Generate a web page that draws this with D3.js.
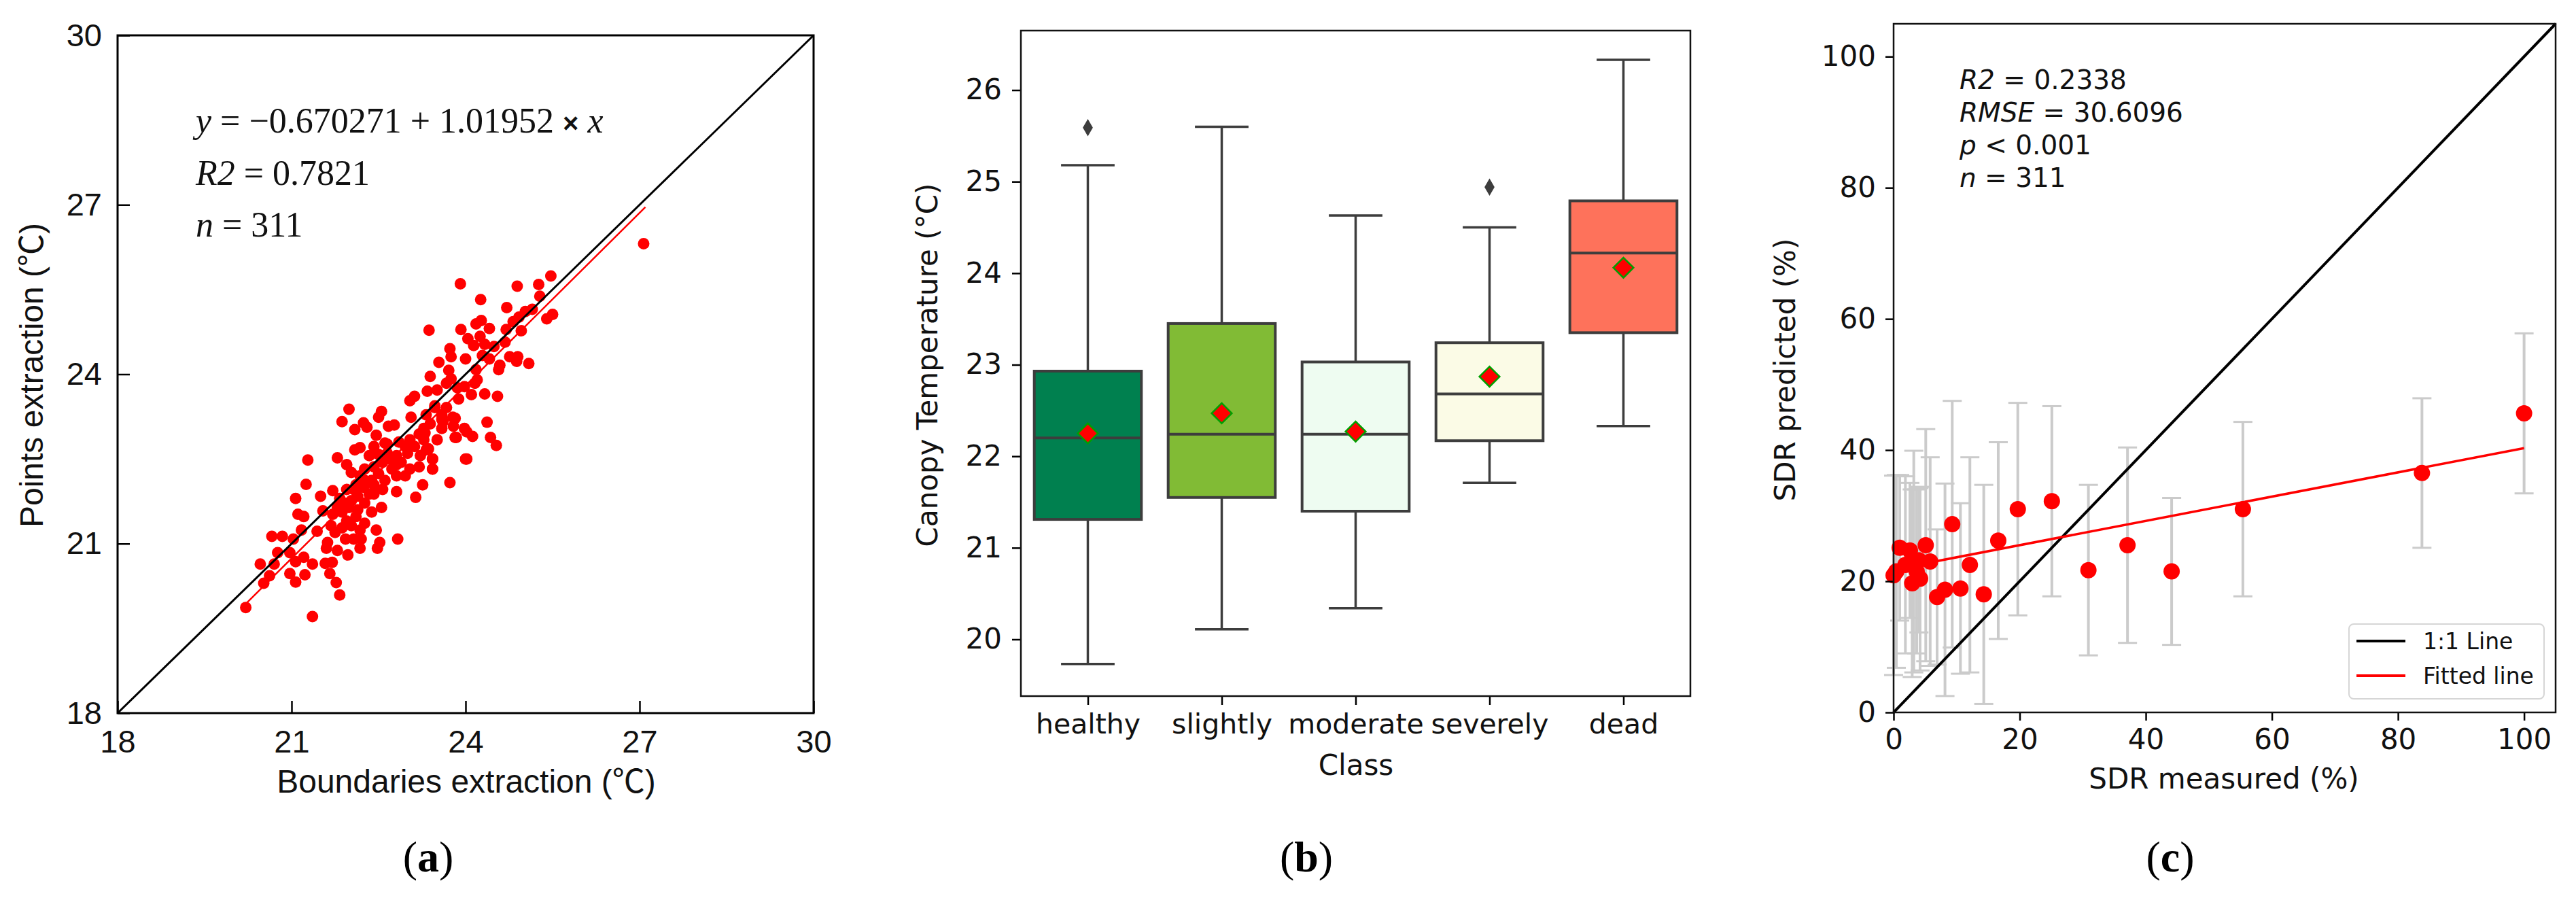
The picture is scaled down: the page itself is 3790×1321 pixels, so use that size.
<!DOCTYPE html>
<html>
<head>
<meta charset="utf-8">
<script src="https://cdn.jsdelivr.net/npm/d3@7"></script>
<style>
  body { margin: 0; background: #fff; }
</style>
</head>
<body>
<div id="graf"></div>
<script>
// ---- panel (a): boundaries vs points extraction ----
const ptsA = [
  [20.21,19.87],[21.36,19.71],[21.83,20.09],[21.77,20.31],[21.07,20.32],[20.97,20.47],[21.23,20.45],[20.52,20.30],
  [20.46,20.64],[20.70,20.64],[20.62,20.43],[21.36,20.64],[21.58,20.65],[21.70,20.67],[21.66,20.47],[21.21,20.76],
  [21.07,20.68],[20.97,20.84],[20.76,20.84],[20.66,21.13],[20.84,21.13],[21.03,21.08],[21.17,21.24],[21.44,21.22],
  [21.62,21.02],[21.60,20.92],[21.79,20.88],[21.97,20.80],[21.93,21.08],[22.18,20.92],[22.07,21.08],[22.20,21.08],
  [22.48,20.92],[22.52,21.02],[22.46,21.24],[22.83,21.08],[21.11,21.52],[21.21,21.48],[21.07,21.80],[21.25,22.05],
  [21.50,21.84],[21.71,21.94],[21.54,21.58],[21.68,21.32],[21.71,21.52],[21.87,21.56],[21.99,21.64],[21.95,21.40],
  [22.11,21.48],[22.26,21.36],[22.38,21.56],[22.55,21.64],[22.26,21.72],[22.14,21.84],[22.07,21.96],[22.24,22.00],
  [22.42,21.88],[22.57,21.96],[22.81,21.92],[23.14,21.82],[23.26,22.04],[23.73,22.08],[22.38,22.12],[22.50,22.24],
  [22.26,22.32],[22.73,22.32],[22.96,22.20],[23.04,22.32],[23.20,22.36],[23.43,22.32],[23.43,22.50],[23.22,22.56],
  [24.00,22.50],[21.95,22.40],[22.03,22.26],[21.79,22.52],[21.28,22.48],[22.09,22.66],[22.18,22.70],[22.50,22.58],
  [22.65,22.76],[22.85,22.80],[23.04,22.84],[23.20,22.94],[23.28,23.04],[23.06,23.24],[23.04,23.53],[23.12,23.61],
  [23.47,23.41],[23.59,23.20],[23.78,23.24],[23.82,22.88],[23.98,23.04],[21.99,23.38],[21.87,23.16],[22.09,23.02],
  [22.24,23.14],[22.30,23.06],[22.46,22.92],[22.50,23.24],[22.55,23.34],[22.67,23.08],[22.77,23.10],[22.61,22.78],
  [27.07,26.31],[25.47,25.74],[25.26,25.59],[24.89,25.56],[23.91,25.60],[24.26,25.32],[25.28,25.38],[24.71,25.18],
  [25.03,25.11],[25.15,25.15],[25.50,25.06],[25.40,24.98],[24.82,24.93],[24.92,25.01],[24.96,24.77],[24.70,24.79],
  [24.27,24.95],[24.18,24.89],[24.41,24.81],[23.92,24.79],[23.37,24.78],[24.04,24.63],[24.25,24.67],[24.14,24.51],
  [24.33,24.53],[24.49,24.49],[24.68,24.57],[23.73,24.45],[23.75,24.31],[24.00,24.27],[24.29,24.33],[24.41,24.27],
  [24.76,24.31],[24.90,24.31],[24.88,24.23],[25.09,24.19],[24.59,24.16],[24.57,24.08],[23.54,24.21],[24.18,24.08],
  [23.71,24.07],[23.39,23.96],[23.75,23.92],[24.20,23.90],[24.16,23.84],[23.86,23.76],[23.98,23.78],[23.34,23.70],
  [23.51,23.72],[23.67,23.84],[23.88,23.56],[24.10,23.64],[24.33,23.65],[24.55,23.61],[23.47,23.44],[23.59,23.28],
  [23.82,23.22],[23.61,23.16],[24.37,23.15],[23.79,23.08],[24.02,22.98],[24.12,22.90],[23.84,22.88],[24.43,22.88],
  [24.53,22.74],[23.30,22.96],[24.02,22.50],[23.43,22.50],[23.43,22.32],[23.32,22.66],[21.91,21.72],[22.03,21.76],
  [22.14,21.60],[22.34,21.88],[22.42,22.04],[22.61,22.12],[22.81,22.20],[22.89,22.44],[22.81,22.56],[23.00,22.60],
  [23.12,22.72],[22.96,22.72],[22.73,22.48],[22.57,22.44],[22.42,22.36],[22.26,22.12],[22.11,22.04],[22.18,22.20],
  [21.95,21.96],[21.83,21.80],[21.79,21.64],[22.03,21.32],[22.18,21.24],[21.87,21.28],[21.75,21.20],[23.28,22.84],
  [23.36,22.68],[23.51,22.84],[23.59,23.04],[23.39,23.12],[23.67,23.41],[23.32,23.28],[22.42,22.72],[22.34,22.56],
  [22.65,22.60],[22.81,22.40]
]
const fitA = [-0.670271, 1.01952]        // intercept, slope
const fitARange = [20.2, 27.1]
const ticksA = [18, 21, 24, 27, 30]

// ---- panel (b): canopy temperature per class ----
const classes  = ['healthy', 'slightly', 'moderate', 'severely', 'dead']
const whiskLo  = [19.73, 20.11, 20.34, 21.71, 22.33]
const q1       = [21.31, 21.55, 21.40, 22.17, 23.35]
const medians  = [22.20, 22.24, 22.24, 22.68, 24.22]
const q3       = [22.93, 23.45, 23.03, 23.24, 24.79]
const whiskHi  = [25.18, 25.60, 24.63, 24.50, 26.33]
const means    = [22.25, 22.47, 22.27, 22.87, 24.06]
const outliers = [[0, 25.59], [3, 24.94]]
const boxColors = ['#00804f', '#81bb35', '#eefcf1', '#fbfbe6', '#fe725b']
const ticksB = [20, 21, 22, 23, 24, 25, 26]

// ---- panel (c): SDR measured vs predicted ----
const sdrMeasured  = [0.0, 0.43, 0.97, 1.87, 2.59, 2.95, 3.2, 3.66, 4.02, 4.2, 5.1, 5.8, 6.9, 8.15, 9.3, 10.6, 12.1, 14.3, 16.6, 19.7, 25.1, 30.9, 37.1, 44.1, 55.4, 83.8, 100]
const sdrPredicted = [20.9, 21.5, 25.1, 22.5, 24.7, 19.7, 23.0, 21.5, 23.2, 20.4, 25.5, 23.0, 17.6, 18.7, 28.7, 18.9, 22.5, 18.0, 26.2, 31.0, 32.2, 21.7, 25.5, 21.5, 31.0, 36.5, 45.6]
const sdrStd       = [15.2, 14.7, 11.1, 13.5, 10.3, 14.3, 16.9, 12.5, 11.0, 14.0, 17.7, 15.9, 10.3, 16.2, 18.8, 13.0, 16.4, 16.7, 15.0, 16.2, 14.5, 13.0, 14.9, 11.2, 13.3, 11.4, 12.2]
const fitC = [21.8, 0.185]
const fitCRange = [0, 100]
const ticksC = [0, 20, 40, 60, 80, 100]

const sansA = '"Liberation Sans", Arial, sans-serif'
const cjk   = '"Noto Sans CJK SC", "Noto Sans", sans-serif'
const sansB = '"DejaVu Sans", sans-serif'
const serif = '"Liberation Serif", "DejaVu Serif", serif'

svg = d3.select('#graf').append('svg')
        .attr('width', 3790)
        .attr('height', 1321)
        .style('background', '#fff')

function styleAxis(ax, font, size) {
  ax.attr('font-family', font).attr('font-size', size)
  ax.select('.domain').remove()
  ax.selectAll('.tick line').attr('stroke', '#000').attr('stroke-width', 2.5)
  ax.selectAll('.tick text').attr('fill', '#111')
}

// ================= (a) =================
xA = d3.scaleLinear().domain([18, 30]).range([173, 1197])
yA = d3.scaleLinear().domain([18, 30]).range([1049, 52])
gA = svg.append('g')

gA.selectAll('circle')
  .data(ptsA)
  .enter().append('circle')
  .attr('cx', d => xA(d[0]))
  .attr('cy', d => yA(d[1]))
  .attr('r', 8.5)
  .attr('fill', '#ff0000')

gA.append('line')
  .attr('x1', xA(fitARange[0])).attr('y1', yA(fitA[0] + fitA[1] * fitARange[0]))
  .attr('x2', xA(fitARange[1])).attr('y2', yA(fitA[0] + fitA[1] * fitARange[1]))
  .attr('stroke', '#ff0000').attr('stroke-width', 2.5)

gA.append('line')
  .attr('x1', xA(18)).attr('y1', yA(18))
  .attr('x2', xA(30)).attr('y2', yA(30))
  .attr('stroke', '#000').attr('stroke-width', 3)

gA.append('g')
  .attr('transform', `translate(0, ${yA(18)})`)
  .call(d3.axisBottom(xA).tickValues(ticksA).tickSize(-18).tickSizeOuter(0).tickPadding(25))
  .call(ax => styleAxis(ax, sansA, 47))
gA.append('g')
  .attr('transform', `translate(${xA(18)}, 0)`)
  .call(d3.axisLeft(yA).tickValues(ticksA).tickSize(-18).tickSizeOuter(0).tickPadding(23))
  .call(ax => styleAxis(ax, sansA, 47))

gA.append('rect')
  .attr('x', xA(18)).attr('y', yA(30))
  .attr('width', xA(30) - xA(18)).attr('height', yA(18) - yA(30))
  .attr('fill', 'none').attr('stroke', '#000').attr('stroke-width', 3)

ylabA = gA.append('text')
  .attr('transform', 'translate(63, 552) rotate(-90)')
  .attr('text-anchor', 'middle')
  .attr('font-family', sansA).attr('font-size', 48).attr('fill', '#111')
ylabA.append('tspan').text('Points extraction (')
ylabA.append('tspan').attr('font-family', cjk).text('℃')
ylabA.append('tspan').text(')')

xlabA = gA.append('text')
  .attr('x', 686).attr('y', 1166)
  .attr('text-anchor', 'middle')
  .attr('font-family', sansA).attr('font-size', 48).attr('fill', '#111')
xlabA.append('tspan').text('Boundaries extraction (')
xlabA.append('tspan').attr('font-family', cjk).text('℃')
xlabA.append('tspan').text(')')

eq = gA.append('text').attr('x', 288).attr('y', 195)
       .attr('font-family', serif).attr('font-size', 52).attr('fill', '#111')
eq.append('tspan').attr('font-style', 'italic').text('y')
eq.append('tspan').text(' = −0.670271 + 1.01952 ')
eq.append('tspan').attr('font-family', sansA).attr('font-weight', 'bold').attr('font-size', 40).text('×')
eq.append('tspan').attr('font-style', 'italic').text(' x')

r2a = gA.append('text').attr('x', 288).attr('y', 272)
        .attr('font-family', serif).attr('font-size', 52).attr('fill', '#111')
r2a.append('tspan').attr('font-style', 'italic').text('R2')
r2a.append('tspan').text(' = 0.7821')

na = gA.append('text').attr('x', 288).attr('y', 348)
       .attr('font-family', serif).attr('font-size', 52).attr('fill', '#111')
na.append('tspan').attr('font-style', 'italic').text('n')
na.append('tspan').text(' = 311')

// ================= (b) =================
xB = d3.scaleLinear().domain([-0.5, 4.5]).range([1502, 2487])
yB = d3.scaleLinear().domain([19.38, 26.65]).range([1024, 45])
gB = svg.append('g')
const boxStroke = '#3d3d3d'

classes.forEach((c, i) => {
  const cx = xB(i)
  // whiskers
  gB.append('line').attr('x1', cx).attr('x2', cx).attr('y1', yB(q3[i])).attr('y2', yB(whiskHi[i]))
    .attr('stroke', boxStroke).attr('stroke-width', 3.5)
  gB.append('line').attr('x1', cx).attr('x2', cx).attr('y1', yB(q1[i])).attr('y2', yB(whiskLo[i]))
    .attr('stroke', boxStroke).attr('stroke-width', 3.5)
  gB.append('line').attr('x1', xB(i - 0.2)).attr('x2', xB(i + 0.2)).attr('y1', yB(whiskHi[i])).attr('y2', yB(whiskHi[i]))
    .attr('stroke', boxStroke).attr('stroke-width', 3.5)
  gB.append('line').attr('x1', xB(i - 0.2)).attr('x2', xB(i + 0.2)).attr('y1', yB(whiskLo[i])).attr('y2', yB(whiskLo[i]))
    .attr('stroke', boxStroke).attr('stroke-width', 3.5)
  // caja
  gB.append('rect')
    .attr('x', xB(i - 0.4)).attr('y', yB(q3[i]))
    .attr('width', xB(i + 0.4) - xB(i - 0.4)).attr('height', yB(q1[i]) - yB(q3[i]))
    .attr('fill', boxColors[i]).attr('stroke', boxStroke).attr('stroke-width', 4)
  gB.append('line').attr('x1', xB(i - 0.4)).attr('x2', xB(i + 0.4)).attr('y1', yB(medians[i])).attr('y2', yB(medians[i]))
    .attr('stroke', boxStroke).attr('stroke-width', 4)
})

gB.selectAll('.outlier')
  .data(outliers)
  .enter().append('path')
  .attr('class', 'outlier')
  .attr('d', d3.symbol(d3.symbolDiamond, 190))
  .attr('transform', d => `translate(${xB(d[0])}, ${yB(d[1])})`)
  .attr('fill', boxStroke)

gB.selectAll('.mean')
  .data(means)
  .enter().append('path')
  .attr('class', 'mean')
  .attr('d', d3.symbol(d3.symbolSquare, 440))
  .attr('transform', (d, i) => `translate(${xB(i)}, ${yB(d)}) rotate(45)`)
  .attr('fill', '#ff0000').attr('stroke', '#00a000').attr('stroke-width', 2.5)

gB.append('g')
  .attr('transform', `translate(0, ${yB(19.38)})`)
  .call(d3.axisBottom(xB).tickValues(d3.range(classes.length)).tickFormat(i => classes[i])
        .tickSize(13).tickSizeOuter(0).tickPadding(13))
  .call(ax => styleAxis(ax, sansB, 41))
gB.append('g')
  .attr('transform', `translate(${xB(-0.5)}, 0)`)
  .call(d3.axisLeft(yB).tickValues(ticksB).tickSize(13).tickSizeOuter(0).tickPadding(15))
  .call(ax => styleAxis(ax, sansB, 42))

gB.append('rect')
  .attr('x', xB(-0.5)).attr('y', yB(26.65))
  .attr('width', xB(4.5) - xB(-0.5)).attr('height', yB(19.38) - yB(26.65))
  .attr('fill', 'none').attr('stroke', '#111').attr('stroke-width', 2.5)

gB.append('text')
  .attr('transform', 'translate(1379, 537) rotate(-90)')
  .attr('text-anchor', 'middle')
  .attr('font-family', sansB).attr('font-size', 42).attr('fill', '#111')
  .text('Canopy Temperature (°C)')
gB.append('text')
  .attr('x', 1995).attr('y', 1140)
  .attr('text-anchor', 'middle')
  .attr('font-family', sansB).attr('font-size', 42).attr('fill', '#111')
  .text('Class')

// ================= (c) =================
xC = d3.scaleLinear().domain([0, 105]).range([2786, 3760])
yC = d3.scaleLinear().domain([0, 105]).range([1048, 35])
gC = svg.append('g')
const barColor = '#cbcbcb'

sdrMeasured.forEach((m, i) => {
  const cx = xC(m)
  const top = yC(sdrPredicted[i] + sdrStd[i])
  const bot = yC(sdrPredicted[i] - sdrStd[i])
  gC.append('line').attr('x1', cx).attr('x2', cx).attr('y1', top).attr('y2', bot)
    .attr('stroke', barColor).attr('stroke-width', 4)
  gC.append('line').attr('x1', cx - 14).attr('x2', cx + 14).attr('y1', top).attr('y2', top)
    .attr('stroke', barColor).attr('stroke-width', 3)
  gC.append('line').attr('x1', cx - 14).attr('x2', cx + 14).attr('y1', bot).attr('y2', bot)
    .attr('stroke', barColor).attr('stroke-width', 3)
})

gC.append('line')
  .attr('x1', xC(0)).attr('y1', yC(0))
  .attr('x2', xC(105)).attr('y2', yC(105))
  .attr('stroke', '#000').attr('stroke-width', 4)

gC.append('line')
  .attr('x1', xC(fitCRange[0])).attr('y1', yC(fitC[0] + fitC[1] * fitCRange[0]))
  .attr('x2', xC(fitCRange[1])).attr('y2', yC(fitC[0] + fitC[1] * fitCRange[1]))
  .attr('stroke', '#ff0000').attr('stroke-width', 3.5)

gC.selectAll('.pt')
  .data(sdrMeasured)
  .enter().append('circle')
  .attr('class', 'pt')
  .attr('cx', d => xC(d))
  .attr('cy', (d, i) => yC(sdrPredicted[i]))
  .attr('r', 12)
  .attr('fill', '#ff0000')

gC.append('g')
  .attr('transform', `translate(0, ${yC(0)})`)
  .call(d3.axisBottom(xC).tickValues(ticksC).tickSize(12).tickSizeOuter(0).tickPadding(12))
  .call(ax => styleAxis(ax, sansB, 42))
gC.append('g')
  .attr('transform', `translate(${xC(0)}, 0)`)
  .call(d3.axisLeft(yC).tickValues(ticksC).tickSize(12).tickSizeOuter(0).tickPadding(14))
  .call(ax => styleAxis(ax, sansB, 42))

gC.append('rect')
  .attr('x', xC(0)).attr('y', yC(105))
  .attr('width', xC(105) - xC(0)).attr('height', yC(0) - yC(105))
  .attr('fill', 'none').attr('stroke', '#111').attr('stroke-width', 2.5)

// texto de estadisticos
const statLines = [
  [['R2', true], [' = 0.2338', false]],
  [['RMSE', true], [' = 30.6096', false]],
  [['p', true], [' < 0.001', false]],
  [['n', true], [' = 311', false]]
]
statLines.forEach((parts, k) => {
  const t = gC.append('text').attr('x', 2883).attr('y', 131 + k * 48)
              .attr('font-family', sansB).attr('font-size', 39).attr('fill', '#111')
  parts.forEach(p => t.append('tspan').attr('font-style', p[1] ? 'italic' : 'normal').text(p[0]))
})

// leyenda
legC = gC.append('g')
legC.append('rect')
  .attr('x', 3456).attr('y', 918).attr('width', 287).attr('height', 110).attr('rx', 7)
  .attr('fill', '#fff').attr('fill-opacity', 0.8).attr('stroke', '#d6d6d6').attr('stroke-width', 2)
legC.append('line').attr('x1', 3467).attr('x2', 3539).attr('y1', 943).attr('y2', 943)
  .attr('stroke', '#000').attr('stroke-width', 4)
legC.append('line').attr('x1', 3467).attr('x2', 3539).attr('y1', 994).attr('y2', 994)
  .attr('stroke', '#ff0000').attr('stroke-width', 4)
legC.append('text').attr('x', 3565).attr('y', 955)
  .attr('font-family', sansB).attr('font-size', 33).attr('fill', '#111').text('1:1 Line')
legC.append('text').attr('x', 3565).attr('y', 1006)
  .attr('font-family', sansB).attr('font-size', 33).attr('fill', '#111').text('Fitted line')

gC.append('text')
  .attr('transform', 'translate(2641, 544) rotate(-90)')
  .attr('text-anchor', 'middle')
  .attr('font-family', sansB).attr('font-size', 42).attr('fill', '#111')
  .text('SDR predicted (%)')
gC.append('text')
  .attr('x', 3272).attr('y', 1160)
  .attr('text-anchor', 'middle')
  .attr('font-family', sansB).attr('font-size', 42).attr('fill', '#111')
  .text('SDR measured (%)')

// etiquetas (a) (b) (c)
const panelLabels = [['a', 630], ['b', 1922], ['c', 3193]]
panelLabels.forEach(p => {
  const t = svg.append('text').attr('x', p[1]).attr('y', 1282)
               .attr('text-anchor', 'middle')
               .attr('font-family', serif).attr('font-size', 64).attr('fill', '#000')
  t.append('tspan').text('(')
  t.append('tspan').attr('font-weight', 'bold').text(p[0])
  t.append('tspan').text(')')
})
</script>
</body>
</html>
